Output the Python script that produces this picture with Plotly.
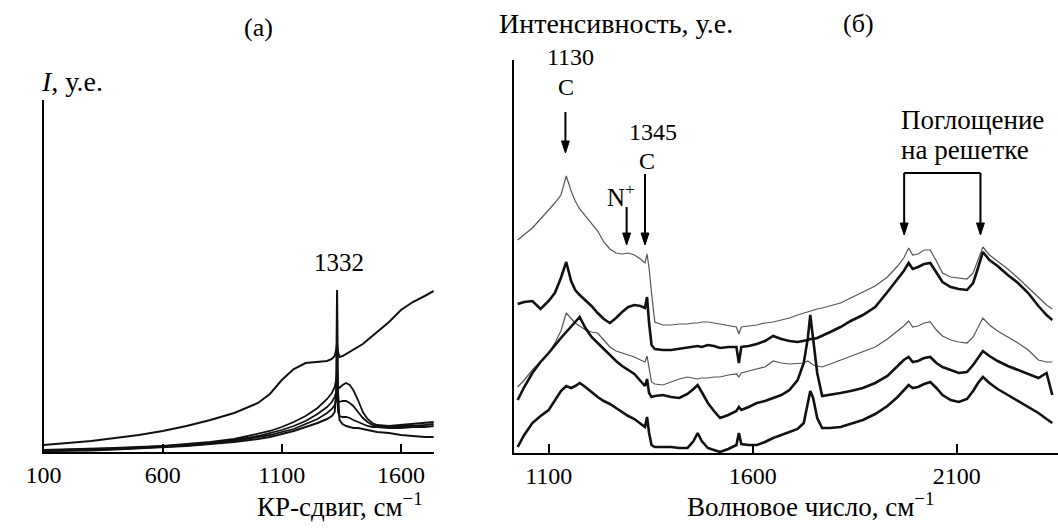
import plotly.graph_objects as go

W, H = 1058, 528

# ---------------- Panel (a) data ----------------
shift_a = [100, 200, 300, 400, 500, 600, 700, 800, 900, 1000,
           1050, 1100, 1150, 1200, 1250, 1290, 1310, 1322, 1328, 1332,
           1336, 1342, 1355, 1370, 1385, 1400, 1420, 1440, 1460, 1480,
           1500, 1550, 1600, 1650, 1700, 1738]
a_top = [7, 9, 11, 14, 17, 21, 26, 32, 39, 49,
         58, 72, 83, 89, 90, 91, 93, 96, 102, 107,
         100, 95, 96, 98, 100, 102, 105, 108, 112, 116,
         120, 130, 142, 150, 156, 161]
a_c1 = [2, 2.5, 3, 4, 5, 6, 8, 10, 13, 18,
        21, 25, 30, 36, 44, 53, 59, 65, 72, 82,
        66, 64, 67, 69, 67, 62, 52, 40, 33, 29,
        27, 26, 27, 28, 29, 30]
a_c2 = [1.5, 2, 2.5, 3.5, 4.5, 5.5, 7, 9, 12, 16,
        19, 22, 26, 31, 38, 45, 50, 55, 60, 72,
        52, 50, 51, 51, 49, 46, 40, 34, 30, 27,
        26, 25, 26, 26, 27, 28]
a_c3 = [1, 1.5, 2, 3, 4, 5, 6.5, 8.5, 11, 15,
        17, 20, 23, 28, 33, 39, 43, 47, 52, 62,
        40, 36, 35, 35, 34, 32, 30, 28, 26, 25,
        25, 24, 24, 25, 25, 26]
a_c4 = [1, 1, 1.5, 2.5, 3.5, 4.5, 6, 8, 10, 13,
        15, 18, 21, 25, 29, 33, 36, 40, 60, 162,
        60, 32, 28, 26, 25, 24, 24, 23, 22, 21,
        20, 19, 17, 16, 15, 15]
ticks_a = [100, 600, 1100, 1600]

# ---------------- Panel (б) data ----------------
wn_b = [1024, 1040, 1060, 1080, 1100, 1115, 1130, 1143, 1155, 1165,
        1176, 1190, 1205, 1220, 1235, 1250, 1265, 1280, 1295, 1310,
        1325, 1336, 1341, 1346, 1352, 1360, 1380, 1400, 1420, 1440,
        1455, 1465, 1475, 1490, 1505, 1520, 1540, 1560, 1566, 1572,
        1590, 1610, 1630, 1650, 1670, 1690, 1710, 1725, 1735, 1741,
        1748, 1758, 1770, 1790, 1815, 1840, 1870, 1900, 1930, 1955,
        1970, 1982, 1992, 2005, 2020, 2035, 2050, 2065, 2085, 2105,
        2125, 2140, 2152, 2164, 2180, 2200, 2225, 2250, 2275, 2300,
        2320, 2334]
b_t1 = [213, 218, 225, 234, 243, 250, 258, 277, 262, 252,
        244, 237, 230, 222, 211, 204, 200, 199, 200, 198,
        194, 190, 199, 185, 160, 131, 128, 128, 129, 129,
        130, 130, 131, 131, 130, 129, 128, 126, 119, 126,
        127, 128, 130, 131, 133, 135, 138, 140, 141, 142,
        143, 144, 145, 147, 150, 155, 161, 167, 176, 187,
        195, 205, 198, 199, 203, 203, 192, 180, 176, 175,
        174, 180, 192, 206, 198, 192, 184, 175, 165, 155,
        148, 144]
b_t2 = [149, 151, 152, 144, 152, 160, 175, 191, 172, 163,
        158, 153, 147, 140, 134, 130, 135, 141, 146, 148,
        147, 145, 156, 130, 108, 104, 103, 103, 104, 105,
        106, 107, 106, 108, 107, 105, 106, 106, 90, 106,
        107, 109, 112, 117, 114, 112, 111, 112, 113, 114,
        114, 115, 117, 121, 126, 132, 138, 146, 161, 174,
        182, 190, 184, 186, 189, 190, 181, 171, 166, 164,
        163, 170, 185, 201, 193, 187, 178, 170, 160, 147,
        138, 133]
b_t3 = [66, 73, 83, 92, 100, 110, 122, 140, 135, 130,
        127, 123, 121, 120, 113, 106, 102, 100, 98, 96,
        93, 91, 97, 85, 71, 69, 68, 71, 74, 76,
        75, 74, 75, 75, 76, 76, 78, 79, 76, 80,
        82, 84, 86, 92, 90, 89, 90, 90, 92, 90,
        88, 87, 86, 89, 93, 97, 101, 106, 114, 122,
        127, 132, 126, 127, 130, 131, 123, 117, 113, 111,
        110, 116, 126, 135, 128, 122, 116, 110, 103, 93,
        91, 91]
b_t4 = [53, 66, 80, 91, 100, 108, 115, 121, 126, 131,
        136, 125, 116, 110, 104, 97, 92, 87, 83, 79,
        72, 67, 74, 60, 56, 57, 58, 56, 55, 59,
        64, 68, 61, 50, 42, 35, 38, 42, 46, 43,
        46, 50, 52, 55, 58, 63, 73, 90, 115, 138,
        112, 80, 57, 58, 60, 62, 65, 70, 77, 87,
        93, 96, 91, 92, 95, 96, 90, 86, 83, 80,
        81, 88, 95, 102, 97, 92, 87, 83, 79, 75,
        80, 58]
b_t5 = [6, 18, 30, 37, 43, 52, 62, 67, 65, 67,
        70, 66, 61, 56, 52, 49, 45, 41, 37, 34,
        29, 26, 36, 20, 8, 6, 6, 6, 5, 5,
        12, 20, 12, 5, 3, 1, 4, 8, 20, 9,
        8, 8, 11, 15, 18, 21, 24, 30, 48, 62,
        55, 35, 25, 25, 26, 29, 33, 39, 47, 56,
        63, 68, 65, 66, 69, 71, 65, 58, 53, 51,
        54, 62, 70, 76, 70, 64, 58, 52, 46, 40,
        34, 30]
ticks_b = [1100, 1600, 2100]

FONT = "Liberation Serif, Times New Roman, Times, serif"
NUM_SIZE = 25
TXT_SIZE = 28
fig = go.Figure()

for ys, wdt in [(a_top, 2.0), (a_c1, 1.8), (a_c2, 1.8), (a_c3, 1.8), (a_c4, 2.0)]:
    fig.add_trace(go.Scatter(x=shift_a, y=ys, mode="lines", xaxis="x", yaxis="y",
                             line=dict(color="#111111", width=wdt), showlegend=False,
                             hoverinfo="skip"))

for ys, col, wdt in [(b_t1, "#555555", 1.2), (b_t2, "#111111", 2.6), (b_t3, "#555555", 1.2),
                     (b_t4, "#111111", 2.6), (b_t5, "#111111", 2.6)]:
    fig.add_trace(go.Scatter(x=wn_b, y=ys, mode="lines", xaxis="x2", yaxis="y2",
                             line=dict(color=col, width=wdt), showlegend=False,
                             hoverinfo="skip"))

def py(p):
    return 1 - p / H

def px(p):
    return p / W

XB0, XB1 = 1016, 2348
XB_PIX0 = 505
KX = (W - XB_PIX0) / (XB1 - XB0)   # pixels per wavenumber unit in panel (б)

axis_common = dict(showgrid=False, zeroline=False, showline=True, linecolor="black",
                   linewidth=2)
tickfont = dict(family=FONT, size=24, color="black")

fig.update_layout(
    width=W, height=H, margin=dict(l=0, r=0, t=0, b=0),
    paper_bgcolor="white", plot_bgcolor="white",
    font=dict(family=FONT, color="black"),
    xaxis=dict(domain=[px(26), px(423)], range=[100, 1738], tickvals=ticks_a,
               ticks="inside", ticklen=8, tickwidth=2, tickcolor="black",
               tickfont=tickfont, anchor="y", **axis_common),
    yaxis=dict(domain=[py(452), py(100)], range=[0, 352], showticklabels=False,
               ticks="", anchor="x", **axis_common),
    xaxis2=dict(domain=[px(XB_PIX0), 1.0], range=[XB0, XB1], tickvals=ticks_b,
                ticks="inside", ticklen=9, tickwidth=2, tickcolor="black",
                tickfont=tickfont, anchor="y2", **axis_common),
    yaxis2=dict(domain=[py(453), py(60)], range=[0, 393], showticklabels=False,
                ticks="", anchor="x2", **axis_common),
)

def txt(x, y, s, xanchor="center", size=TXT_SIZE):
    fig.add_annotation(x=px(x), y=py(y), xref="paper", yref="paper", text=s,
                       showarrow=False, xanchor=xanchor, yanchor="middle",
                       borderpad=0,
                       font=dict(family=FONT, size=size, color="black"))

txt(245, 28, "(a)", size=26)
txt(22, 82, "<i>I</i>, у.е.", xanchor="left")
txt(327, 262, "1332", size=NUM_SIZE)
txt(413, 505, "КР-сдвиг, см<sup>−1</sup>", xanchor="right", size=27)
txt(608, 23, "Интенсивность, у.е.")
txt(855, 23, "(б)", size=26)
txt(562, 57, "1130", size=24)
txt(557, 87, "C", size=24)
txt(646, 132, "1345", size=24)
txt(640, 161, "C", size=24)
txt(613, 195, "N<sup>+</sup>", size=25)
txt(897, 120, "Поглощение", xanchor="left", size=27)
txt(897, 150, "на решетке", xanchor="left", size=27)
txt(806, 505, "Волновое число, см<sup>−1</sup>", size=27)

HEAD_W, HEAD_H = 4.0, 12.0

def arrow(x, y_tip, length):
    fig.add_shape(type="line", xref="x2", yref="y2", x0=x, x1=x,
                  y0=y_tip + length, y1=y_tip + HEAD_H - 1,
                  line=dict(color="black", width=2))
    hw = HEAD_W / KX
    fig.add_shape(type="path", xref="x2", yref="y2",
                  path=f"M {x - hw},{y_tip + HEAD_H} L {x + hw},{y_tip + HEAD_H} L {x},{y_tip} Z",
                  fillcolor="black", line=dict(color="black", width=1))

arrow(1141, 300, 41)
arrow(1336, 208, 71)
arrow(1291, 208, 38)
arrow(1971, 218, 62)
arrow(2158, 218, 62)
fig.add_shape(type="line", xref="x2", yref="y2", x0=1971, x1=2158, y0=280, y1=280,
              line=dict(color="black", width=2))

fig.write_html("out.html")
